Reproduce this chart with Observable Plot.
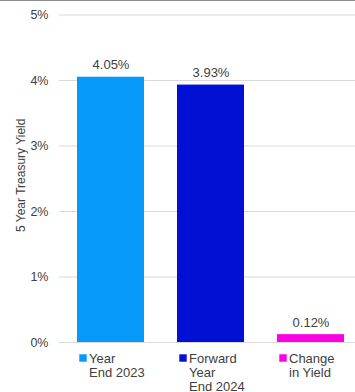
<!DOCTYPE html>
<html>
<head>
<meta charset="utf-8">
<script src="https://cdn.jsdelivr.net/npm/d3@7"></script>
<script src="https://cdn.jsdelivr.net/npm/@observablehq/plot@0.6"></script>
<style>
  html, body { margin: 0; padding: 0; background: #fff; }
  #wrap { position: relative; width: 355px; height: 392px; overflow: hidden; }
  #topline { position: absolute; left: 0; top: 0; width: 355px; height: 1px; background: #8c8c8c; }
  svg text { font-family: "Liberation Sans", Arial, sans-serif; }
</style>
</head>
<body>
<div id="wrap"><div id="topline"></div><div id="chart"></div></div>
<script>
const categories = ["Year End 2023", "Forward Year End 2024", "Change in Yield"];
const labels = ["Year\nEnd 2023", "Forward\nYear\nEnd 2024", "Change\nin Yield"];
const values = [4.05, 3.93, 0.12];
const valueLabels = ["4.05%", "3.93%", "0.12%"];
const colors = ["#0699F9", "#0210D6", "#FF00E4"];
const yTicks = [0, 1, 2, 3, 4, 5];
const yTitle = "5 Year Treasury Yield";

const data = categories.map((c, i) => ({cat: c, label: labels[i], value: values[i], vlabel: valueLabels[i], color: colors[i]}));

const font = "'Liberation Sans', Arial, sans-serif";
const textColor = "#404040";

const chart = Plot.plot({
  width: 355,
  height: 392,
  marginLeft: 59,
  marginRight: 0,
  marginTop: 0,
  marginBottom: 0,
  style: {fontFamily: font, fontSize: "12px", color: textColor, background: "transparent"},
  x: {domain: categories, range: [59, 361], paddingInner: 0.33, paddingOuter: 0.165, axis: null},
  y: {domain: [0, 5], range: [342, 14.5], ticks: yTicks, axis: null},
  marks: [
    Plot.gridY(yTicks, {stroke: "#d9d9d9", strokeOpacity: 1, strokeWidth: 1}),
    Plot.axisY(yTicks, {tickSize: 0, tickPadding: 11, tickFormat: d => d + "%", fontSize: 12.5, fill: textColor, label: null}),
    Plot.text([yTitle], {frameAnchor: "left", rotate: -90, lineAnchor: "bottom", dx: -35, dy: 35.5, fontSize: 12, fill: textColor}),
    Plot.barY(data, {x: "cat", y: "value", fill: "color"}),
    Plot.text(data, {x: "cat", y: "value", text: "vlabel", lineAnchor: "bottom", dy: -8, fontSize: 13, fill: textColor}),
    Plot.dot(data, {x: "cat", y: 0, symbol: "square", r: 4.2, fill: "color", stroke: null, dx: -28, dy: 15.5}),
    Plot.text(data, {x: "cat", y: 0, text: "label", textAnchor: "start", lineAnchor: "top", dx: -22, dy: 10, fontSize: 13, lineHeight: 1.1, fill: textColor})
  ]
});
document.getElementById("chart").appendChild(chart);
</script>
</body>
</html>
